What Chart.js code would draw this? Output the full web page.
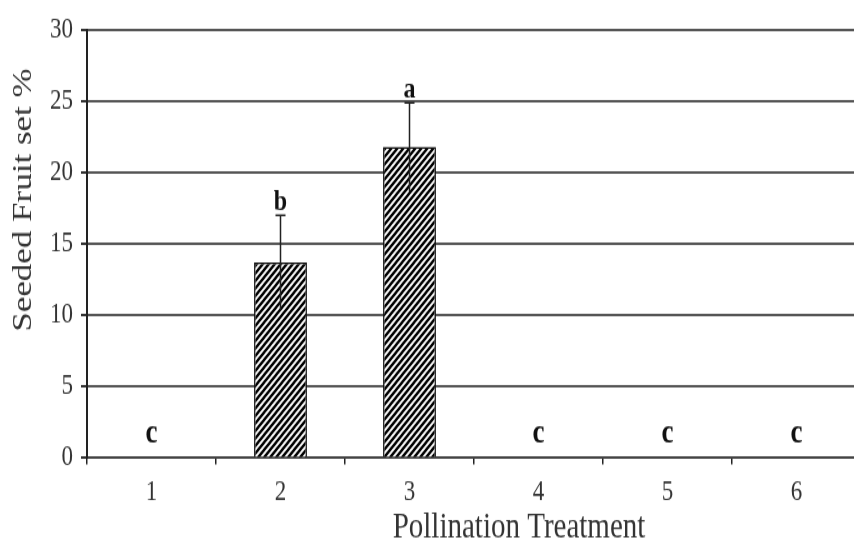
<!DOCTYPE html>
<html><head><meta charset="utf-8">
<script src="https://cdn.jsdelivr.net/npm/chart.js@4/dist/chart.umd.min.js"></script>
<style>
html,body{margin:0;padding:0;background:#fff;overflow:hidden;width:854px;height:539px}
#wrap{transform:scale(1,1.25);transform-origin:0 0;width:870px;height:440px}
canvas{display:block}
</style>
</head><body>
<div id="wrap"><canvas id="c" width="870" height="440" style="width:870px;height:440px"></canvas></div>
<script>
const categories = ['1','2','3','4','5','6'];
const values = [0, 13.7, 21.8, 0, 0, 0];
const errors = [0, 3.3, 3.1, 0, 0, 0];
const letters = ['c','b','a','c','c','c'];
const yTicks = [0,5,10,15,20,25,30];
const xTitle = 'Pollination Treatment';
const yTitle = 'Seeded Fruit set %';

function hatch(){
  const s=6, c=document.createElement('canvas'); c.width=s; c.height=s;
  const g=c.getContext('2d'); g.fillStyle='#fff'; g.fillRect(0,0,s,s);
  g.strokeStyle='#000'; g.lineWidth=2.3;
  g.beginPath(); g.moveTo(-2,s+2); g.lineTo(s+2,-2);
  g.moveTo(-2,2); g.lineTo(2,-2); g.moveTo(s-2,s+2); g.lineTo(s+2,s-2); g.stroke();
  return g.createPattern(c,'repeat');
}
const pat = hatch();
const serif = "'Liberation Serif','Times New Roman',serif";

const annot = {
  id:'annot',
  afterDatasetsDraw(chart){
    const {ctx, scales:{x,y}} = chart;
    ctx.save();
    ctx.strokeStyle='#222'; ctx.lineWidth=1.5;
    values.forEach((v,i)=>{
      if(!errors[i]) return;
      const px=x.getPixelForValue(i);
      const top=y.getPixelForValue(v+errors[i]);
      const bot=y.getPixelForValue(v-errors[i]);
      ctx.beginPath(); ctx.moveTo(px,bot); ctx.lineTo(px,top);
      ctx.moveTo(px-5,top); ctx.lineTo(px+5,top); ctx.stroke();
    });
    ctx.fillStyle='#111'; ctx.textAlign='center'; ctx.textBaseline='alphabetic';
    letters.forEach((l,i)=>{
      const px=x.getPixelForValue(i);
      const top=values[i]+errors[i];
      if(top>0){ ctx.font="bold 24px "+serif; ctx.fillText(l,px,y.getPixelForValue(top)-4); }
      else { ctx.font="bold 27px "+serif; ctx.fillText(l,px,y.getPixelForValue(0)-12); }
    });
    // axis titles
    ctx.fillStyle='#333';
    ctx.font="29px "+serif; ctx.textBaseline='alphabetic';
    ctx.fillText(xTitle,519,429.5);
    ctx.font="28px "+serif; ctx.textBaseline='middle';
    ctx.translate(24,160); ctx.rotate(-Math.PI/2); ctx.fillText(yTitle,0,0);
    ctx.restore();
  }
};

new Chart(document.getElementById('c'),{
  type:'bar',
  data:{labels:categories,datasets:[{data:values,backgroundColor:pat,borderColor:'#111',borderWidth:1.5,
    categoryPercentage:1,barPercentage:0.41}]},
  options:{
    responsive:false,animation:false,
    layout:{padding:{left:42,right:9,top:24,bottom:23.6}},
    plugins:{legend:{display:false},tooltip:{enabled:false}},
    scales:{
      x:{
        grid:{display:true,drawOnChartArea:false,offset:true,tickLength:5,color:'#222',tickColor:'#222',lineWidth:1.5},
        border:{display:true,color:'#444',width:2},
        ticks:{color:'#333',font:{family:serif,size:23,lineHeight:1},padding:11},
        title:{display:false}
      },
      y:{
        min:0,max:30,
        afterBuildTicks(a){a.ticks=yTicks.map(v=>({value:v}));},
        grid:{color:'#555',lineWidth:2,tickLength:6,tickColor:'#333',drawTicks:true},
        border:{display:true,color:'#222',width:2},
        ticks:{color:'#333',font:{family:serif,size:23,lineHeight:1},padding:8},
        title:{display:false}
      }
    }
  },
  plugins:[annot]
});
</script>
</body></html>
